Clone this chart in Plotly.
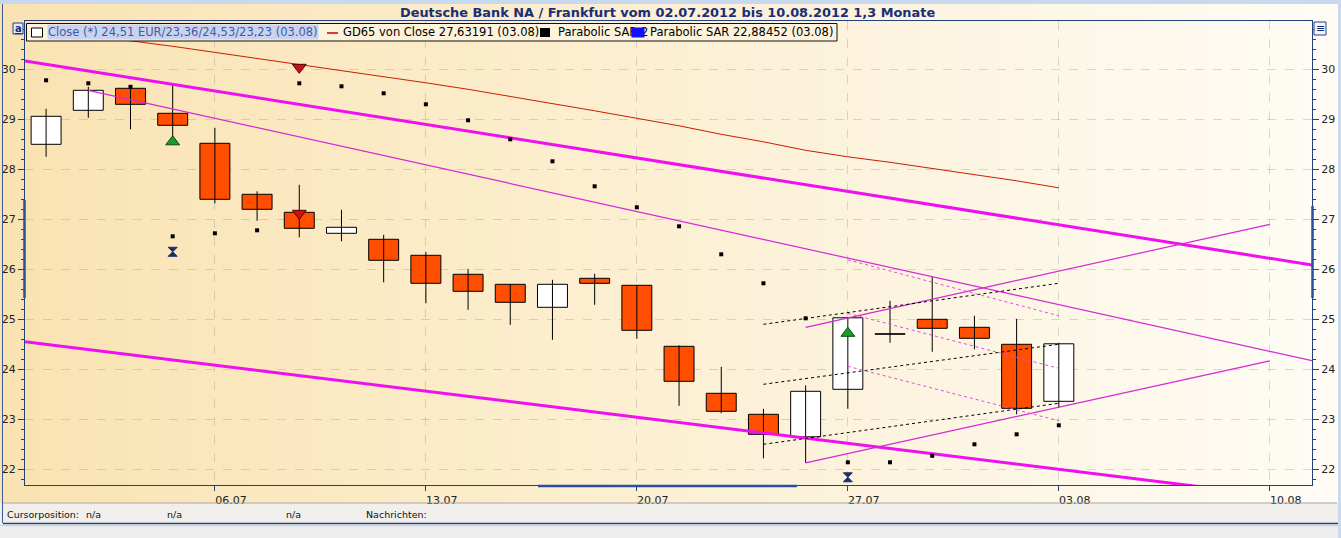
import plotly.graph_objects as go

# ---------------- data ----------------
axis_days = ["02.07", "03.07", "04.07", "05.07", "06.07",
             "09.07", "10.07", "11.07", "12.07", "13.07",
             "16.07", "17.07", "18.07", "19.07", "20.07",
             "23.07", "24.07", "25.07", "26.07", "27.07",
             "30.07", "31.07", "01.08", "02.08", "03.08",
             "06.08", "07.08", "08.08", "09.08", "10.08", "13.08"]
candle_dates = axis_days[:25]
open_prices = [28.50, 29.18, 29.62, 29.12, 28.52, 27.50, 27.14, 26.72, 26.60, 26.28,
               25.90, 25.70, 25.24, 25.82, 25.68, 24.46, 23.52, 23.10, 22.65, 23.60,
               24.70, 25.00, 24.84, 24.50, 23.36]
high_prices = [29.21, 29.65, 29.67, 29.69, 28.83, 27.56, 27.69, 27.19, 26.69, 26.35,
               26.01, 25.70, 25.79, 25.91, 25.68, 24.48, 24.05, 23.21, 23.68, 25.03,
               25.37, 25.85, 25.07, 25.01, 24.53]
low_prices = [28.25, 29.03, 28.80, 28.62, 27.32, 26.97, 26.64, 26.56, 25.74, 25.32,
              25.19, 24.89, 24.59, 25.29, 24.61, 23.27, 23.12, 22.22, 22.13, 23.21,
              24.53, 24.35, 24.40, 23.10, 23.23]
close_prices = [29.06, 29.58, 29.30, 28.88, 27.40, 27.20, 26.82, 26.84, 26.18, 25.72,
                25.56, 25.34, 25.70, 25.72, 24.78, 23.76, 23.16, 22.70, 23.56, 25.03,
                24.70, 24.82, 24.62, 23.22, 24.51]
sar_values = [29.78, 29.72, 29.65, 26.66, 26.72, 26.78, 29.72, 29.66, 29.52, 29.30,
              28.98, 28.60, 28.16, 27.66, 27.24, 26.86, 26.30, 25.72, 25.02, 22.14,
              22.14, 22.27, 22.50, 22.70, 22.88]
gd65_values = [30.80, 30.68, 30.57, 30.46, 30.34, 30.22, 30.10, 29.98, 29.86, 29.73,
               29.60, 29.46, 29.32, 29.17, 29.02, 28.87, 28.70, 28.55, 28.38, 28.25,
               28.14, 28.02, 27.90, 27.77, 27.63]
buy_dates = ["05.07", "27.07"]
buy_prices = [28.55, 24.72]
sell_dates = ["10.07", "10.07"]
sell_prices = [30.04, 27.12]
flip_dates = ["05.07", "27.07"]
flip_prices = [26.35, 21.84]
tick_labels = ["06.07", "13.07", "20.07", "27.07", "03.08", "10.08"]

# trend lines: anchor dates and prices
channel_top_dates = ["02.07", "10.08"]
channel_top_prices = [30.10, 26.22]
channel_bottom_dates = ["02.07", "03.08"]
channel_bottom_prices = [24.50, 22.00]
fan_dates = ["03.07", "10.08"]
fan_prices = [29.58, 24.36]
rise_dates = ["26.07", "10.08"]
rise_low_prices = [22.13, 24.17]
rise_high_prices = [24.84, 26.90]
black_dash_dates = ["25.07", "03.08"]
black_dash_start = [24.90, 23.70, 22.50]
black_dash_end = [25.72, 24.50, 23.32]
pink_dash_dates = ["27.07", "03.08"]
pink_dash_start = [26.19, 25.12, 24.06]
pink_dash_end = [25.07, 24.02, 22.97]

# ---------------- helpers ----------------
W, H = 1341, 538
ML, MR, MT, MB = 25, 29, 21, 53
PW, PH = W - ML - MR, H - MT - MB


def px(x):
    return (x - ML) / PW


def py(y):
    return (H - MB - y) / PH


def pos(d):
    return axis_days.index(d)


X_MIN, X_MAX = -0.5, len(axis_days) - 1
Y_MIN, Y_MAX = 21.686, 30.966


def ray(dates, prices, left=True, right=True):
    x0, x1 = pos(dates[0]), pos(dates[1])
    slope = (prices[1] - prices[0]) / (x1 - x0)
    xa = X_MIN if left else x0
    xb = X_MAX if right else x1
    return [xa, xb], [prices[0] + slope * (xa - x0), prices[0] + slope * (xb - x0)]


xs = [pos(d) for d in candle_dates]
UP, DOWN = "#FFFFFF", "#FF4E00"
MAG = "#EE10EE"
AXC = "#24407E"

fig = go.Figure()

# wicks
wx, wy = [], []
for x, lo, hi in zip(xs, low_prices, high_prices):
    wx += [x, x, None]
    wy += [lo, hi, None]
fig.add_trace(go.Scatter(x=wx, y=wy, mode="lines", line=dict(color="black", width=1),
                         hoverinfo="skip", showlegend=False))

# bodies
fig.add_trace(go.Bar(
    x=xs,
    y=[max(abs(c - o), 0.012) for o, c in zip(open_prices, close_prices)],
    base=[min(o, c) for o, c in zip(open_prices, close_prices)],
    width=0.71,
    marker=dict(color=[UP if c >= o else DOWN for o, c in zip(open_prices, close_prices)],
                line=dict(color="black", width=1)),
    showlegend=False, hoverinfo="skip"))

# GD65
fig.add_trace(go.Scatter(x=xs, y=gd65_values, mode="lines",
                         line=dict(color="#C81E00", width=1), showlegend=False))

# channel lines
lx, ly = ray(channel_top_dates, channel_top_prices)
fig.add_trace(go.Scatter(x=lx, y=ly, mode="lines", line=dict(color=MAG, width=3), showlegend=False))
lx, ly = ray(channel_bottom_dates, channel_bottom_prices)
fig.add_trace(go.Scatter(x=lx, y=ly, mode="lines", line=dict(color=MAG, width=3), showlegend=False))
lx, ly = ray(fan_dates, fan_prices, left=False)
fig.add_trace(go.Scatter(x=lx, y=ly, mode="lines", line=dict(color="#D528D5", width=1.2), showlegend=False))
for pr in (rise_low_prices, rise_high_prices):
    lx, ly = ray(rise_dates, pr, left=False, right=False)
    fig.add_trace(go.Scatter(x=lx, y=ly, mode="lines", line=dict(color="#D528D5", width=1.2),
                             showlegend=False))
for a, b in zip(black_dash_start, black_dash_end):
    fig.add_trace(go.Scatter(x=[pos(d) for d in black_dash_dates], y=[a, b], mode="lines",
                             line=dict(color="black", width=1, dash="3px,3px"), showlegend=False))
for a, b in zip(pink_dash_start, pink_dash_end):
    fig.add_trace(go.Scatter(x=[pos(d) for d in pink_dash_dates], y=[a, b], mode="lines",
                             line=dict(color="#DC50DC", width=1, dash="3px,3px"), showlegend=False))

# parabolic SAR
fig.add_trace(go.Scatter(x=xs, y=sar_values, mode="markers",
                         marker=dict(symbol="square", size=4, color="black"), showlegend=False))
# signals
fig.add_trace(go.Scatter(x=[pos(d) for d in buy_dates], y=buy_prices, mode="markers",
                         marker=dict(symbol="triangle-up", size=12, color="#1E9A28",
                                     line=dict(color="#0B4A10", width=1)), showlegend=False))
fig.add_trace(go.Scatter(x=[pos(d) for d in sell_dates], y=sell_prices, mode="markers",
                         marker=dict(symbol="triangle-down", size=12, color="#D01010",
                                     line=dict(color="#500000", width=1)), showlegend=False))
fig.add_trace(go.Scatter(x=[pos(d) for d in flip_dates], y=flip_prices, mode="markers",
                         marker=dict(symbol="hourglass", size=9, color="#1C2C6C",
                                     line=dict(color="#1C2C6C", width=1)), showlegend=False))
# right axis carrier
fig.add_trace(go.Scatter(x=[xs[0]], y=[close_prices[0]], yaxis="y2", mode="markers",
                         marker=dict(opacity=0), hoverinfo="skip", showlegend=False))

# ---------------- decoration shapes ----------------
shapes = []
N = 70
c0 = (250, 227, 178)
c1 = (254, 252, 245)
for i in range(N):
    t = i / (N - 1)
    col = "rgb(%d,%d,%d)" % tuple(round(a + (b - a) * t) for a, b in zip(c0, c1))
    x0 = W * i / N
    x1 = W * (i + 1) / N + 1
    shapes.append(dict(type="rect", xref="paper", yref="paper", layer="below",
                       x0=px(x0), x1=px(x1), y0=py(503), y1=py(0),
                       fillcolor=col, line=dict(width=0)))
# status bar
shapes.append(dict(type="rect", xref="paper", yref="paper", layer="below",
                   x0=px(0), x1=px(W), y0=py(H), y1=py(503), fillcolor="#F0EFEC", line=dict(width=0)))
shapes.append(dict(type="line", xref="paper", yref="paper", layer="above",
                   x0=px(3), x1=px(1337), y0=py(503), y1=py(503), line=dict(color="#A8A8A8", width=1)))
shapes.append(dict(type="line", xref="paper", yref="paper", layer="above",
                   x0=px(3), x1=px(1341), y0=py(523.5), y1=py(523.5), line=dict(color=AXC, width=1.5)))
shapes.append(dict(type="rect", xref="paper", yref="paper", layer="above",
                   x0=px(0), x1=px(W), y0=py(H), y1=py(525), fillcolor="#EEEEEE",
                   line=dict(width=0)))
shapes.append(dict(type="line", xref="paper", yref="paper", layer="above",
                   x0=px(0), x1=px(W), y0=py(525.5), y1=py(525.5), line=dict(color="#C6D6EC", width=1.5)))
# frame pieces
shapes.append(dict(type="line", xref="paper", yref="paper", layer="above",
                   x0=px(2.5), x1=px(2.5), y0=py(523), y1=py(0), line=dict(color="#3A5A9A", width=1)))
shapes.append(dict(type="rect", xref="paper", yref="paper", layer="above",
                   x0=px(0), x1=px(W), y0=py(4), y1=py(0), fillcolor="#C8D8EE", line=dict(width=0)))
shapes.append(dict(type="rect", xref="paper", yref="paper", layer="above",
                   x0=px(1338), x1=px(W), y0=py(H), y1=py(0), fillcolor="#C9D9EE", line=dict(width=0)))
# scroll indicators
shapes.append(dict(type="line", xref="paper", yref="paper", layer="above",
                   x0=px(24.5), x1=px(24.5), y0=py(298), y1=py(200), line=dict(color="#2A4FA0", width=2.5)))
shapes.append(dict(type="line", xref="paper", yref="paper", layer="above",
                   x0=px(1312.5), x1=px(1312.5), y0=py(298), y1=py(206), line=dict(color="#2A4FA0", width=2.5)))
shapes.append(dict(type="line", xref="paper", yref="paper", layer="above",
                   x0=px(538), x1=px(797), y0=py(486), y1=py(486), line=dict(color="#2A4FA0", width=2.5)))
# legend box
shapes.append(dict(type="rect", xref="paper", yref="paper", layer="above",
                   x0=px(26.5), x1=px(837), y0=py(41), y1=py(23.5), fillcolor="#FDF3DC",
                   line=dict(color="#101010", width=1)))
shapes.append(dict(type="rect", xref="paper", yref="paper", layer="above",
                   x0=px(31.5), x1=px(42.5), y0=py(37), y1=py(28), fillcolor="white",
                   line=dict(color="black", width=1)))
shapes.append(dict(type="line", xref="paper", yref="paper", layer="above",
                   x0=px(327), x1=px(338), y0=py(33), y1=py(33), line=dict(color="#D00000", width=1.5)))
shapes.append(dict(type="rect", xref="paper", yref="paper", layer="above",
                   x0=px(540), x1=px(550), y0=py(37), y1=py(28), fillcolor="black",
                   line=dict(width=0)))
# "a" box and right icon box
shapes.append(dict(type="rect", xref="paper", yref="paper", layer="above",
                   x0=px(13), x1=px(23), y0=py(34), y1=py(23), fillcolor="#E6EAF6",
                   line=dict(color=AXC, width=1)))
shapes.append(dict(type="rect", xref="paper", yref="paper", layer="above",
                   x0=px(1314), x1=px(1326), y0=py(35), y1=py(22), fillcolor="#F4F5FA",
                   line=dict(color=AXC, width=1)))

# ---------------- text ----------------
FONT = "DejaVu Sans"
ann = []


def text(x, y, s, size=11.5, color="black", **kw):
    d = dict(xref="paper", yref="paper", x=px(x), y=py(y), text=s, showarrow=False,
             xanchor="left", yanchor="middle", font=dict(family=FONT, size=size, color=color))
    d.update(kw)
    ann.append(d)


text(47, 32.5, "Close (*) 24,51 EUR/23,36/24,53/23,23 (03.08)", color="#4259AA",
     bgcolor="#C9D3EE", borderpad=0)
text(341, 32.5, "GD65 von Close 27,63191 (03.08)")
text(556, 32.5, "Parabolic SAR 2")
# blue legend square drawn over the end of the previous label
text(631, 32.5, " ", size=6, bgcolor="#1010FF", width=12, height=9, borderpad=0)
text(648, 32.5, "Parabolic SAR 22,88452 (03.08)")
text(18, 28.5, "<b><u>a</u></b>", size=10, color="#1A2D78", xanchor="center")
text(1320, 28.5, "≡", size=11, color="#1A2D78", xanchor="center")
text(5, 514, "Cursorposition:", size=9.5, color="#111")
text(84, 514, "n/a", size=9.5, color="#111")
text(165, 514, "n/a", size=9.5, color="#111")
text(284, 514, "n/a", size=9.5, color="#111")
text(364, 514, "Nachrichten:", size=9.5, color="#111")
text(667, 12, "<b>Deutsche Bank NA / Frankfurt vom 02.07.2012 bis 10.08.2012 1,3 Monate</b>",
     size=12.9, color="#1A2D78", xanchor="center")

GRID = "rgba(150,150,150,0.35)"
yax = dict(range=[Y_MIN, Y_MAX], tick0=22, dtick=1, ticks="outside", ticklen=6,
           tickcolor=AXC, showline=True, linecolor=AXC, linewidth=1, zeroline=False,
           automargin=False,
           tickfont=dict(family=FONT, size=11, color="#222"),
           minor=dict(dtick=0.2, tick0=22, ticks="outside", ticklen=3, tickcolor=AXC, showgrid=False))

fig.update_layout(
    width=W, height=H, autosize=False,
    margin=dict(l=ML, r=MR, t=MT, b=MB, pad=0, autoexpand=False),
    paper_bgcolor="#F0EFEC", plot_bgcolor="rgba(0,0,0,0)",
    barmode="overlay", showlegend=False, hovermode=False,
    xaxis=dict(range=[X_MIN, X_MAX], tickvals=[pos(t) for t in tick_labels], ticktext=tick_labels,
               ticks="outside", ticklen=5, tickcolor=AXC, showline=True, linecolor=AXC,
               mirror=True, zeroline=False, showgrid=True, gridcolor=GRID, griddash="dash",
               automargin=False,
               ticklabelshift=16, tickfont=dict(family=FONT, size=11, color="#222")),
    yaxis=dict(**yax, side="left", showgrid=True, gridcolor=GRID, griddash="dash"),
    yaxis2=dict(**yax, side="right", overlaying="y", showgrid=False),
    shapes=shapes, annotations=ann,
    font=dict(family=FONT),
)

fig.write_html("out.html", config={"displayModeBar": False},
               post_script="document.body.style.margin='0';document.body.style.overflow='hidden';")
